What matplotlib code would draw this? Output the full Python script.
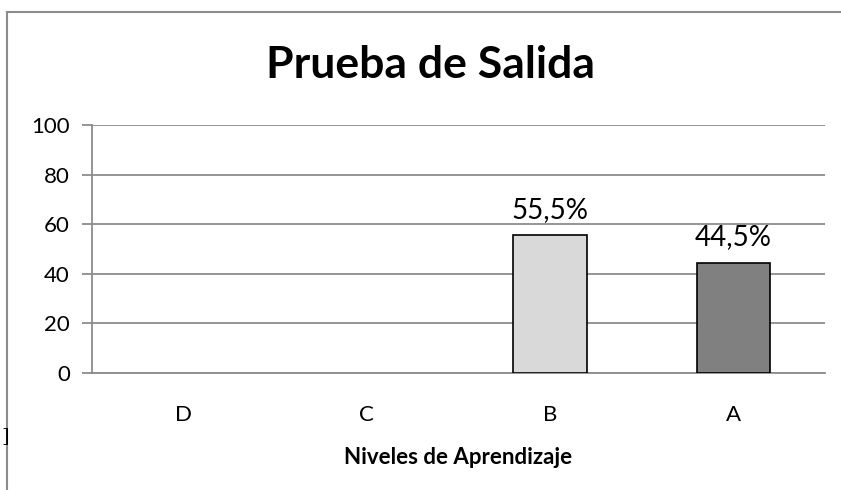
import matplotlib.pyplot as plt
from matplotlib.lines import Line2D

# datos
niveles = ['D', 'C', 'B', 'A']
porcentajes = [0, 0, 55.5, 44.5]
etiquetas = ['', '', '55,5%', '44,5%']
colores = ['#d9d9d9', '#d9d9d9', '#d9d9d9', '#808080']
y_ticks = [0, 20, 40, 60, 80, 100]

plt.rcParams['font.family'] = ['Lato', 'DejaVu Sans']

fig = plt.figure(figsize=(8.41, 4.90), dpi=100)
W, H = 841, 490

# marco exterior (cortado a la derecha y abajo)
fig.add_artist(Line2D([7 / W, 7 / W], [0, 1 - 12 / H], transform=fig.transFigure, color='#8c8c8c', lw=1.5))
fig.add_artist(Line2D([7 / W, 1], [1 - 12 / H, 1 - 12 / H], transform=fig.transFigure, color='#8c8c8c', lw=1.5))
fig.text(1 / W, 1 - 436 / H, ']', fontsize=14, va='center', ha='left', family='DejaVu Serif')

ax = fig.add_axes([92 / W, 1 - 373 / H, (825 - 92) / W, (373 - 125) / H])

x = range(len(niveles))
# las barras en cero no se ven en el original
anchos_borde = [1.2 if v > 0 else 0 for v in porcentajes]
barras = ax.bar(x, porcentajes, width=0.4, color=colores, edgecolor='black', linewidth=anchos_borde, zorder=3)
for b, v, t in zip(barras, porcentajes, etiquetas):
    if t:
        ax.text(b.get_x() + b.get_width() / 2, v + 7, t, ha='center', va='baseline', fontsize=20)

ax.set_ylim(0, 100)
ax.set_xlim(-0.5, 3.5)
ax.set_yticks(y_ticks)
ax.set_xticks(list(x))
ax.set_xticklabels(niveles)
ax.grid(axis='y', color='#8c8c8c', linewidth=1.3, zorder=0)
for s in ['top', 'right']:
    ax.spines[s].set_visible(False)
ax.spines['left'].set_color('#8c8c8c')
ax.spines['bottom'].set_color('#8c8c8c')
ax.spines['left'].set_linewidth(1.3)
ax.spines['bottom'].set_linewidth(1.3)
ax.tick_params(axis='y', length=7, color='#8c8c8c', width=1.3, labelsize=16, pad=9)
ax.tick_params(axis='x', length=0, labelsize=16, pad=23)

ax.set_xlabel('Niveles de Aprendizaje', fontsize=16, fontweight='bold', labelpad=16)
fig.text(430 / W, 1 - 78 / H, 'Prueba de Salida', fontsize=32, fontweight='bold', ha='center', va='baseline')

fig.savefig('out.png', dpi=100)
